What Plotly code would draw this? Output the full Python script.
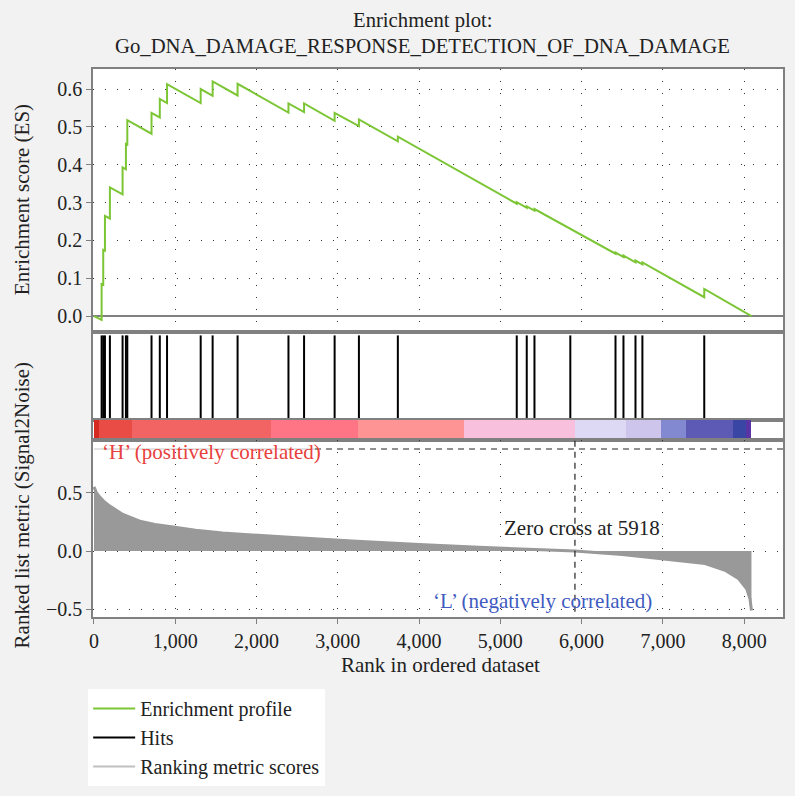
import plotly.graph_objects as go

# ---------------- data ----------------
N_GENES = 8090
ZERO_CROSS = 5918

hit_ranks = [94, 114, 135, 196, 352, 393, 410, 708, 810, 899, 1313, 1460, 1767,
             2393, 2585, 2961, 3260, 3739, 5202, 5325, 5420, 5861, 6417, 6515,
             6663, 6748, 7509]
es_before = [-0.010, 0.083, 0.173, 0.258, 0.322, 0.388, 0.453, 0.482, 0.525, 0.563,
             0.563, 0.582, 0.583, 0.538, 0.539, 0.516, 0.502, 0.462, 0.297, 0.286,
             0.279, 0.230, 0.165, 0.156, 0.142, 0.137, 0.050]
es_after = [0.085, 0.175, 0.265, 0.340, 0.393, 0.455, 0.518, 0.537, 0.574, 0.613,
            0.600, 0.620, 0.614, 0.562, 0.562, 0.537, 0.520, 0.474, 0.301, 0.290,
            0.283, 0.232, 0.168, 0.160, 0.147, 0.142, 0.072]
ES_START = 0.0
ES_END = 0.0

metric_ranks = [0, 30, 74, 130, 196, 356, 564, 750, 974, 1250, 1583, 2000, 2405,
                3178, 3509, 4000, 4736, 5300, 5918, 6500, 7030, 7520, 7765, 7929,
                8031, 8072, 8090]
metric_values = [0.55, 0.50, 0.46, 0.42, 0.385, 0.313, 0.255, 0.228, 0.207, 0.178,
                 0.155, 0.133, 0.117, 0.085, 0.072, 0.055, 0.032, 0.015, 0.0, -0.03,
                 -0.068, -0.108, -0.165, -0.235, -0.325, -0.41, -0.51]

band_edges = [0, 61, 463, 2180, 3252, 4552, 5914, 6552, 6982, 7288, 7865, 8025, 8085]
band_colors = ["#d42a20", "#e84c44", "#f26464", "#ff7585", "#ff9494", "#f8c0dc",
               "#ddd8f4", "#cdc5ec", "#8289d0", "#5c5ab4", "#3a46a4", "#5a34a4"]

es_ticks = [0.0, 0.1, 0.2, 0.3, 0.4, 0.5, 0.6]
metric_ticks = [-0.5, 0.0, 0.5]
rank_ticks = [0, 1000, 2000, 3000, 4000, 5000, 6000, 7000, 8000]

H_LINE_LEVEL = 0.875          # dashed horizontal marker in metric panel
H_LABEL = "‘H’ (positively correlated)"
L_LABEL = "‘L’ (negatively correlated)"
ZC_LABEL = f"Zero cross at {ZERO_CROSS}"

# ---------------- build traces ----------------
FONT = "Liberation Serif"
es_x = [0]
es_y = [ES_START]
for r, b, a in zip(hit_ranks, es_before, es_after):
    es_x += [r, r]
    es_y += [b, a]
es_x.append(N_GENES)
es_y.append(ES_END)

hx, hy = [], []
for r in hit_ranks:
    hx += [r, r, None]
    hy += [0, 1, None]

band_x = [(band_edges[i] + band_edges[i + 1]) / 2 for i in range(len(band_colors))]
band_w = [band_edges[i + 1] - band_edges[i] for i in range(len(band_colors))]

fig = go.Figure()
fig.add_trace(go.Scatter(x=es_x, y=es_y, mode="lines", name="Enrichment profile",
                         line=dict(color="#7cc636", width=2), xaxis="x", yaxis="y"))
fig.add_trace(go.Scatter(x=hx, y=hy, mode="lines", name="Hits",
                         line=dict(color="black", width=2), xaxis="x2", yaxis="y2"))
fig.add_trace(go.Bar(x=band_x, y=[1] * len(band_x), width=band_w, base=0,
                     marker=dict(color=band_colors, line=dict(width=0)),
                     showlegend=False, xaxis="x3", yaxis="y3", hoverinfo="skip"))
fig.add_trace(go.Scatter(x=metric_ranks, y=metric_values, mode="lines", fill="tozeroy",
                         fillcolor="#999999", line=dict(color="#999999", width=3),
                         showlegend=False, xaxis="x4", yaxis="y4"))
fig.add_trace(go.Scatter(x=[None], y=[None], mode="lines", name="Ranking metric scores",
                         line=dict(color="#c0c0c0", width=2), xaxis="x4", yaxis="y4"))

# ---------------- layout ----------------
XR = [-12, 8478]
frame = dict(showline=True, mirror=True, linecolor="#808080", linewidth=1.5)
grid = dict(showgrid=True, gridcolor="#333333", gridwidth=1, griddash="1px,11px")
tickfont = dict(family=FONT, size=20, color="#222222")

D_TOP = [0.520, 1.0]
D_HIT = [0.3595, 0.520]
D_BAR = [0.323, 0.3595]
D_MET = [0.0, 0.323]

fig.update_layout(
    width=795, height=796,
    margin=dict(l=93, r=10, t=69, b=179),
    paper_bgcolor="#f2f2f2", plot_bgcolor="white",
    font=dict(family=FONT, size=21, color="#222222"),
    bargap=0,
    xaxis=dict(domain=[0, 1], anchor="y", range=XR, tickvals=rank_ticks,
               showticklabels=False, ticks="", zeroline=False, **grid, **frame),
    xaxis2=dict(domain=[0, 1], anchor="y2", range=XR, matches="x", showticklabels=False,
                ticks="", showgrid=False, zeroline=False, **frame),
    xaxis3=dict(domain=[0, 1], anchor="y3", range=XR, matches="x", showticklabels=False,
                ticks="", showgrid=False, zeroline=False, **frame),
    xaxis4=dict(domain=[0, 1], anchor="y4", range=XR, matches="x", tickvals=rank_ticks,
                tickformat=",d", ticks="outside", ticklen=5, tickcolor="#808080",
                tickfont=tickfont, zeroline=False, **grid, **frame),
    yaxis=dict(domain=D_TOP, anchor="x", range=[-0.042, 0.653], tickvals=es_ticks,
               tickformat=".1f", ticks="outside", ticklen=5, tickcolor="#808080",
               tickfont=tickfont, zeroline=True, zerolinecolor="#808080",
               zerolinewidth=2, **grid, **frame),
    yaxis2=dict(domain=D_HIT, anchor="x2", range=[0, 1.04], showticklabels=False,
                ticks="", showgrid=False, zeroline=False, **frame),
    yaxis3=dict(domain=D_BAR, anchor="x3", range=[0, 1], showticklabels=False,
                ticks="", showgrid=False, zeroline=False, **frame),
    yaxis4=dict(domain=D_MET, anchor="x4", range=[-0.566, 0.952], tickvals=metric_ticks,
                tickformat=".1f", ticks="outside", ticklen=5, tickcolor="#808080",
                tickfont=tickfont, zeroline=False, **grid, **frame),
    legend=dict(x=-0.007, y=-0.3085, xanchor="left", yanchor="bottom", bgcolor="white",
                font=dict(family=FONT, size=20, color="#222222"), itemwidth=42,
                borderwidth=0, traceorder="normal"),
)

# marker lines in the metric panel
fig.add_shape(type="line", xref="x4", yref="y4", x0=0, x1=2720, y0=H_LINE_LEVEL,
              y1=H_LINE_LEVEL, line=dict(color="#d8d8d8", width=1.5))
fig.add_shape(type="line", xref="x4", yref="y4", x0=2720, x1=XR[1], y0=H_LINE_LEVEL,
              y1=H_LINE_LEVEL, line=dict(color="#222222", width=1.2, dash="6px,5px"))
fig.add_shape(type="line", xref="x4", yref="y4", x0=ZERO_CROSS, x1=ZERO_CROSS,
              y0=-0.52, y1=0.952, line=dict(color="#222222", width=1.2, dash="6px,5px"))

C = dict(xanchor="center", yanchor="middle", showarrow=False)
ann = [
    dict(text="Enrichment plot:", x=0.478, y=1.0894, xref="paper", yref="paper",
         font=dict(size=20.7), **C),
    dict(text="Go_DNA_DAMAGE_RESPONSE_DETECTION_OF_DNA_DAMAGE", x=0.478, y=1.042,
         xref="paper", yref="paper", font=dict(size=20.7), **C),
    dict(text="Enrichment score (ES)", x=-0.1026, y=0.761, xref="paper", yref="paper",
         textangle=-90, font=dict(size=21), **C),
    dict(text="Ranked list metric (Signal2Noise)", x=-0.1026, y=0.204, xref="paper",
         yref="paper", textangle=-90, font=dict(size=21), **C),
    dict(text="Rank in ordered dataset", x=0.504, y=-0.0876, xref="paper", yref="paper",
         font=dict(size=21), **C),
    dict(text=H_LABEL, x=70, y=0.847, xref="x4", yref="y4", xanchor="left",
         yanchor="middle", showarrow=False, font=dict(size=21, color="#e8413c")),
    dict(text=L_LABEL, x=5515, y=-0.43, xref="x4", yref="y4",
         font=dict(size=21, color="#3f5bbf"), **C),
    dict(text=ZC_LABEL, x=6006, y=0.20, xref="x4", yref="y4",
         font=dict(size=21, color="#222222"), **C),
]
fig.update_layout(annotations=ann)

fig.write_html("out.html")
